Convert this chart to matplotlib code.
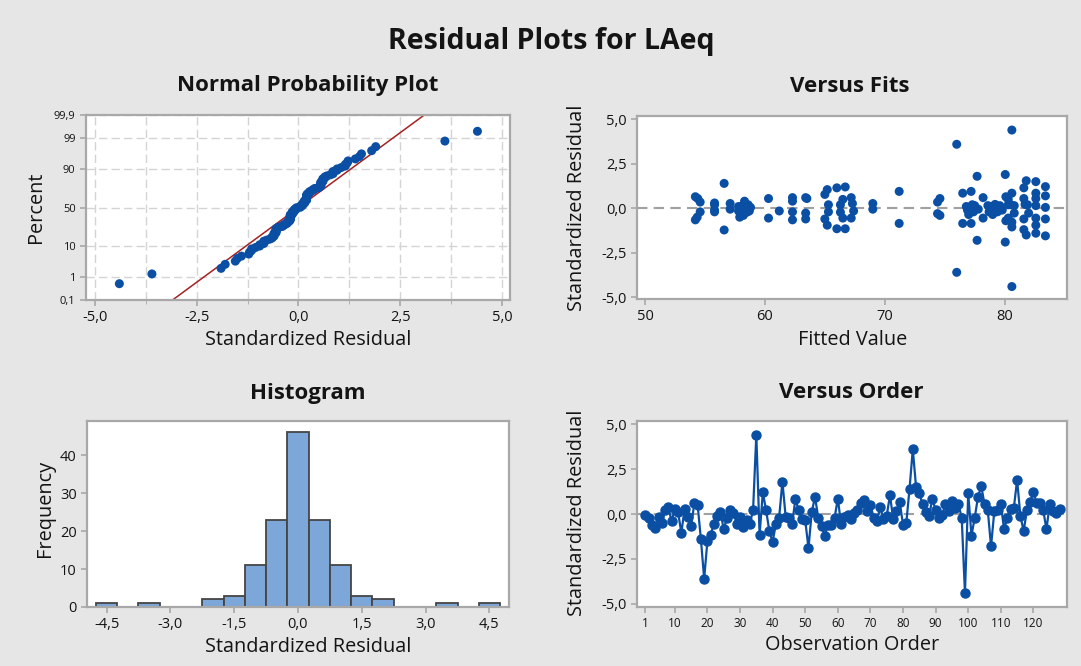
import matplotlib
matplotlib.use('Agg')
import matplotlib.pyplot as plt
import numpy as np
from statistics import NormalDist

plt.rcParams['font.family'] = ['Open Sans', 'DejaVu Sans']

# standardized residuals in observation order (1..128)
residuals = [
    -0.05, -0.2, -0.6, -0.78, -0.15, -0.5, 0.2, 0.4, -0.4, 0.27,
    0.1, -1.05, 0.3, -0.15, -0.65, 0.6, 0.5, -1.4, -3.6, -1.5,
    -1.15, -0.55, -0.1, 0.1, -0.85, -0.22, 0.2, 0.05, -0.55, -0.15,
    -0.7, -0.35, -0.55, 0.2, 4.4, -1.15, 1.2, 0.2, -0.95, -1.55,
    -0.55, -0.2, 1.8, -0.15, -0.2, -0.55, 0.85, 0.2, -0.27, -0.35,
    -1.9, 0.1, 0.95, -0.2, -0.65, -1.22, -0.6, -0.6, -0.22, 0.85,
    -0.55, -0.15, -0.05, -0.27, 0.05, 0.2, 0.6, 0.78, 0.15, 0.5,
    -0.2, -0.4, 0.4, -0.27, -0.1, 1.05, -0.3, 0.15, 0.65, -0.6,
    -0.5, 1.4, 3.6, 1.5, 1.15, 0.55, 0.1, -0.1, 0.85, 0.22,
    -0.2, -0.05, 0.55, 0.15, 0.7, 0.35, 0.55, -0.2, -4.4, 1.15,
    -1.2, -0.2, 0.95, 1.55, 0.55, 0.2, -1.8, 0.15, 0.2, 0.55,
    -0.85, -0.2, 0.27, 0.35, 1.9, -0.1, -0.95, 0.2, 0.65, 1.22,
    0.6, 0.6, 0.22, -0.85, 0.55, 0.15, 0.05, 0.27,
]

# fitted values in the same order
fitted = [
    57.1, 55.8, 83.4, 80.6, 57.8, 54.35, 55.8, 58.3, 74.6, 57.1,
    57.8, 80.6, 55.8, 58.1, 54.2, 62.3, 80.3, 82.6, 76.0, 81.8,
    66.0, 67.2, 55.8, 58.0, 71.2, 58.5, 58.4, 58.8, 66.5, 58.7,
    80.1, 77.0, 78.2, 58.6, 80.6, 66.7, 66.7, 65.3, 65.2, 83.4,
    80.3, 58.3, 77.7, 61.2, 62.3, 82.6, 82.6, 66.3, 63.4, 79.0,
    80.05, 76.8, 77.2, 65.3, 62.3, 56.6, 81.6, 63.4, 66.3, 76.5,
    60.3, 67.4, 69.0, 80.8, 77.0, 77.3, 63.4, 65.0, 77.5, 66.5,
    54.6, 58.2, 62.3, 82.0, 76.9, 65.2, 74.4, 78.6, 80.1, 65.0,
    57.9, 56.6, 76.0, 82.6, 66.0, 60.3, 78.9, 77.1, 80.6, 79.2,
    77.4, 77.8, 81.6, 79.6, 83.4, 74.4, 54.4, 78.7, 80.6, 81.6,
    81.6, 79.1, 71.2, 81.8, 74.6, 80.3, 77.7, 80.8, 80.5, 82.6,
    77.2, 79.4, 67.3, 54.6, 80.05, 79.8, 82.6, 81.9, 54.2, 83.4,
    67.2, 78.2, 81.7, 76.5, 63.5, 82.6, 83.4, 69.0,
]

prob_ticks = [0.1, 1, 10, 50, 90, 99, 99.9]
prob_labels = ['0,1', '1', '10', '50', '90', '99', '99,9']
resid_ticks = [-5.0, -2.5, 0.0, 2.5, 5.0]
hist_ticks = [-4.5, -3.0, -1.5, 0.0, 1.5, 3.0, 4.5]
hist_yticks = [0, 10, 20, 30, 40]
fit_ticks = [50, 60, 70, 80]
order_ticks = [1, 10, 20, 30, 40, 50, 60, 70, 80, 90, 100, 110, 120]

blue = '#0a4fa3'
bar_col = '#7da6d9'
spine_col = '#a8a8a8'
bg = '#e6e6e6'
ink = '#141414'


def comma(v):
    return ('%.1f' % v).replace('.', ',')


def style(ax):
    ax.set_facecolor('white')
    for s in ax.spines.values():
        s.set_color(spine_col)
        s.set_linewidth(1.6)
    ax.tick_params(colors=spine_col, labelcolor=ink, length=4, width=1.2)


fig = plt.figure(figsize=(10.81, 6.66), dpi=100, facecolor=bg)
W, H = 1081.0, 666.0


def place(l, t, r, b):
    return fig.add_axes([l / W, 1 - b / H, (r - l) / W, (b - t) / H])


def ftext(x, y, s, **kw):
    fig.text(x / W, 1 - y / H, s, ha='center', va='center', color=ink, **kw)


r = np.array(residuals)
n = len(r)
nd = NormalDist()

# normal probability plot
ax1 = place(86, 115, 510, 300)
style(ax1)
rs = np.sort(r)
pct = (np.arange(1, n + 1) - 0.3) / (n + 0.4)
z = np.array([nd.inv_cdf(p) for p in pct])
zt = [nd.inv_cdf(p / 100.0) for p in prob_ticks]
ax1.set_xlim(-5.22, 5.2)
ax1.set_ylim(zt[0], zt[-1])
ax1.set_xticks(resid_ticks, [comma(v) for v in resid_ticks], fontsize=10.5)
ax1.set_xticks(np.arange(-5, 5.01, 1.25), minor=True)
ax1.tick_params(axis='x', which='minor', length=3, color=spine_col)
ax1.set_yticks(zt, prob_labels, fontsize=8)
ax1.grid(True, which='both', axis='x', color='#d4d4d4', ls=(0, (6, 3)), lw=1)
ax1.grid(True, which='major', axis='y', color='#d4d4d4', ls=(0, (6, 3)), lw=1)
ax1.set_axisbelow(True)
zz = np.linspace(zt[0], zt[-1], 50)
ax1.plot(r.mean() + r.std(ddof=1) * zz, zz, color='#a52222', lw=1.1, zorder=2)
ax1.scatter(rs, z, s=42, color=blue, zorder=3, edgecolors='none')

# versus fits
ax2 = place(637, 116, 1067, 299)
style(ax2)
ax2.axhline(0, color='#a0a0a0', ls=(0, (5, 3)), lw=1.5, zorder=1)
ax2.scatter(fitted, r, s=42, color=blue, zorder=3, edgecolors='none')
ax2.set_xlim(49.33, 85.2)
ax2.set_ylim(-5.1, 5.19)
ax2.set_xticks(fit_ticks, [str(v) for v in fit_ticks], fontsize=10.5)
ax2.set_yticks(resid_ticks, [comma(v) for v in resid_ticks], fontsize=10.5)

# histogram
ax3 = place(87, 421, 509, 607)
style(ax3)
ax3.hist(r, bins=np.arange(-4.75, 4.76, 0.5), color=bar_col, edgecolor='#454545', linewidth=1.3)
ax3.set_xlim(-4.96, 4.96)
ax3.set_ylim(0, 49)
ax3.set_xticks(hist_ticks, [comma(v) for v in hist_ticks], fontsize=10.5)
ax3.set_yticks(hist_yticks, [str(v) for v in hist_yticks], fontsize=10.5)

# versus order
ax4 = place(637, 421, 1067, 607)
style(ax4)
obs = np.arange(1, n + 1)
ax4.axhline(0, color='#a0a0a0', ls=(0, (5, 3)), lw=1.5, zorder=1)
ax4.plot(obs, r, '-o', color=blue, ms=6.5, lw=1.6, zorder=3)
ax4.set_xlim(-1.6, 130.3)
ax4.set_ylim(-5.17, 5.17)
ax4.set_xticks(order_ticks, [str(v) for v in order_ticks], fontsize=8.5)
ax4.set_yticks(resid_ticks, [comma(v) for v in resid_ticks], fontsize=10.5)

# titles and labels
ftext(551, 42, 'Residual Plots for LAeq', fontsize=20.5, fontweight='bold')
ftext(308, 86, 'Normal Probability Plot', fontsize=16, fontweight='bold')
ftext(850, 86, 'Versus Fits', fontsize=16, fontweight='bold')
ftext(308, 393, 'Histogram', fontsize=16, fontweight='bold')
ftext(851, 393, 'Versus Order', fontsize=16, fontweight='bold')

ftext(308, 340, 'Standardized Residual', fontsize=14.3)
ftext(853, 340, 'Fitted Value', fontsize=14.3)
ftext(308, 647, 'Standardized Residual', fontsize=14.3)
ftext(852, 645, 'Observation Order', fontsize=14.3)

ftext(36, 207, 'Percent', fontsize=14.3, rotation=90)
ftext(577, 208, 'Standardized Residual', fontsize=14.3, rotation=90)
ftext(45, 508, 'Frequency', fontsize=14.3, rotation=90)
ftext(577, 513, 'Standardized Residual', fontsize=14.3, rotation=90)

fig.savefig('out.png', dpi=100, facecolor=bg)
